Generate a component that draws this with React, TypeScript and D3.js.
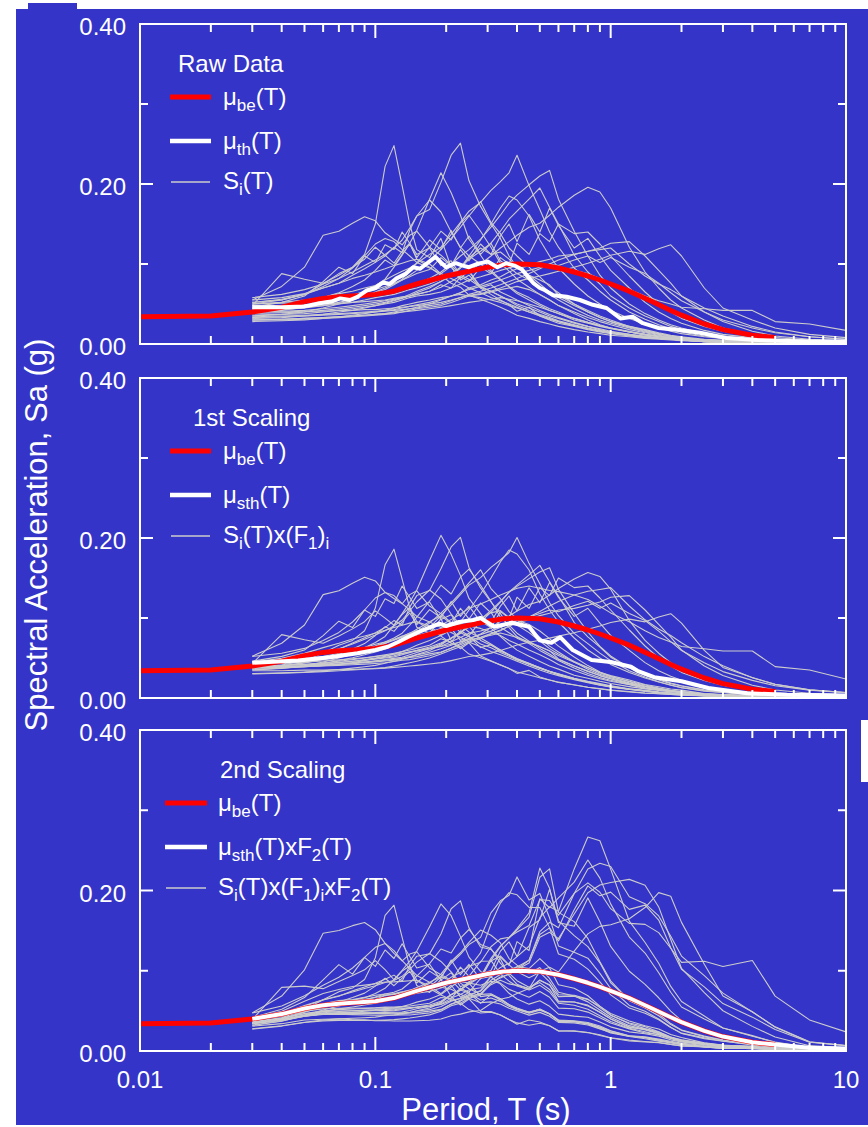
import React from "react";
import * as d3 from "d3";

// Period grid (s) for the individual spectra
const T_GRID = [0.03,0.04,0.05,0.06,0.07,0.08,0.09,0.10,0.11,0.12,0.13,0.14,0.15,0.17,0.19,0.21,0.23,0.25,0.28,0.31,0.34,0.37,0.40,0.45,0.50,0.55,0.60,0.70,0.80,0.90,1.0,1.2,1.4,1.6,1.8,2.0,2.5,3.0,4.0,5.0,7.0,10.0];

// Raw spectra S_i(T), in units of 0.001 g
const RECORDS_MG = [
  [52,55,62,75,88,96,112,150,222,248,198,150,118,108,132,96,82,92,70,62,55,49,41,46,35,30,26,22,18,15,13,10,8,7,6,5,4,3,2,2,1,1],
  [55,58,63,70,76,86,94,102,110,121,114,142,160,168,202,236,251,204,172,150,132,110,96,86,80,74,61,50,42,35,30,22,18,14,11,9,6,5,3,2,2,1],
  [50,52,55,58,63,66,70,73,80,86,91,95,101,112,121,137,152,166,177,192,203,214,236,198,168,140,121,95,80,66,55,40,31,24,19,15,10,8,5,3,2,1],
  [40,42,46,51,56,61,66,73,81,96,111,126,142,181,214,189,161,131,111,92,81,71,63,55,48,42,38,30,26,22,19,15,12,10,8,7,5,4,3,2,1,1],
  [55,72,96,136,141,151,159,154,139,131,124,136,141,121,111,99,86,81,71,66,60,55,50,45,40,35,32,26,22,19,16,12,10,8,7,6,4,3,2,2,1,1],
  [48,88,81,76,86,96,106,121,111,101,116,126,106,96,86,76,71,61,56,51,46,41,36,32,28,25,22,18,15,13,11,9,7,6,5,4,3,2,2,1,1,1],
  [50,51,52,54,56,58,60,62,64,66,68,72,76,82,90,100,110,118,131,146,161,176,186,199,210,217,181,141,110,86,70,50,38,30,24,20,13,10,6,4,3,2],
  [48,48,49,50,51,52,53,54,55,57,59,60,62,66,71,78,85,92,100,110,120,128,136,146,151,161,171,186,196,190,170,121,90,70,55,45,30,20,12,8,5,3],
  [30,31,32,33,34,35,36,37,38,40,42,44,46,50,55,60,64,70,74,80,84,90,94,98,103,106,110,112,116,120,126,128,110,92,76,60,40,28,16,10,6,4],
  [40,40,41,41,42,42,43,43,44,45,46,47,48,50,52,55,58,61,63,66,70,74,78,82,85,88,91,96,101,106,111,116,112,119,124,110,70,45,30,20,12,8],
  [32,33,35,37,40,42,45,48,50,52,55,58,60,62,65,70,75,80,84,88,92,95,98,100,98,96,95,92,88,82,76,68,60,54,50,46,44,42,42,28,25,17],
  [42,44,46,48,50,52,55,58,60,62,65,68,70,75,81,88,95,106,116,126,141,156,166,181,195,171,150,111,90,75,60,45,35,28,22,18,12,9,5,3,2,1],
  [45,46,48,52,56,60,64,68,72,76,80,84,88,93,108,98,118,104,125,112,115,106,96,86,75,65,58,48,40,33,28,22,17,13,10,8,5,4,2,2,1,1],
  [50,55,62,70,76,82,86,90,94,98,101,104,106,100,88,97,80,86,70,74,65,60,55,48,42,37,33,27,22,18,15,12,9,7,6,5,3,2,2,1,1,1],
  [28,29,30,32,34,36,38,40,42,45,48,50,52,55,58,60,62,60,58,55,52,48,45,40,36,32,28,23,19,16,14,11,8,7,6,5,3,2,2,1,1,1],
  [30,30,31,32,33,34,35,36,37,38,40,42,44,46,48,52,56,60,62,65,68,70,72,68,62,55,48,38,30,24,20,15,11,9,7,6,4,3,2,1,1,1],
  [35,37,40,45,50,55,60,65,70,75,81,91,101,121,141,130,151,161,141,121,101,91,81,71,62,55,48,40,33,28,24,18,14,11,9,8,5,4,3,2,1,1],
  [58,62,68,75,82,90,98,105,112,120,130,145,160,180,165,140,121,110,100,90,80,72,65,58,50,44,40,32,27,23,20,15,12,9,8,6,4,3,2,1,1,1],
  [40,41,42,44,46,48,50,52,54,56,58,60,62,66,74,70,84,78,96,88,108,100,126,112,138,128,150,138,140,125,110,85,65,50,40,32,22,16,10,6,4,2],
  [33,34,35,36,37,38,39,40,41,42,43,44,45,48,50,54,58,62,66,70,74,78,82,88,94,100,105,112,116,118,120,100,85,75,68,60,45,35,22,15,9,6],
  [52,56,62,72,82,95,110,125,132,128,118,110,102,95,88,82,76,70,64,58,54,50,46,40,35,31,28,23,19,16,14,11,9,7,6,5,3,2,2,1,1,1],
  [38,39,40,42,44,46,48,50,52,55,58,62,66,72,78,85,95,110,130,150,170,185,180,160,130,110,95,75,60,50,42,32,25,20,16,13,9,7,4,3,2,1],
  [44,47,52,58,64,72,80,92,105,98,112,125,108,130,118,142,120,135,112,126,104,96,88,80,70,62,55,44,36,30,26,20,15,12,10,8,5,4,3,2,1,1],
  [36,37,38,40,42,44,46,48,51,54,57,60,64,70,78,88,96,108,120,112,135,150,128,162,140,170,148,120,132,110,92,70,52,40,32,26,17,12,8,5,3,2],
  [46,52,60,78,96,88,110,102,124,118,140,126,112,120,98,104,86,90,72,66,60,54,48,42,37,33,29,24,20,17,14,11,9,7,6,5,3,2,2,1,1,1],
  [34,35,36,37,38,39,40,41,42,43,45,47,49,52,56,60,64,68,72,76,80,84,88,92,96,100,98,105,110,102,108,96,88,76,64,54,40,30,20,14,9,6],
  [42,43,45,48,52,56,60,64,68,74,80,86,92,104,118,132,146,160,178,152,138,120,110,96,84,72,64,50,40,33,28,21,16,13,10,8,5,4,2,2,1,1],
  [30,31,32,33,34,35,36,37,38,39,40,41,42,44,46,48,50,52,54,56,58,56,54,50,46,42,38,32,27,23,20,16,12,10,8,7,4,3,2,1,1,1],
];

// First scaling factor (F1)_i per record
const F1 = [0.75,0.8,0.85,0.95,0.95,0.9,0.75,0.8,1.0,0.85,1.4,0.85,0.95,0.9,1.5,1.35,1.0,0.75,1.0,1.15,1.0,1.0,0.85,0.85,1.0,1.1,0.9,1.4];

// Target (best-estimate) spectrum mu_be(T)
const MU_BE_T = [0.01,0.02,0.03,0.04,0.05,0.06,0.07,0.08,0.1,0.12,0.15,0.2,0.25,0.3,0.35,0.4,0.5,0.6,0.7,0.8,0.9,1.0,1.2,1.5,1.8,2.0,2.5,3.0,4.0,5.0];
const MU_BE = [0.034,0.035,0.040,0.046,0.053,0.057,0.059,0.060,0.062,0.066,0.075,0.085,0.091,0.096,0.099,0.100,0.099,0.095,0.090,0.085,0.080,0.075,0.066,0.053,0.042,0.036,0.025,0.018,0.011,0.008];

// Mean of raw records mu_th(T)
const MU_TH_T = [0.03,0.04,0.05,0.058,0.065,0.071,0.078,0.084,0.092,0.1,0.108,0.115,0.123,0.135,0.145,0.155,0.166,0.18,0.19,0.2,0.21,0.22,0.235,0.25,0.27,0.3,0.33,0.36,0.39,0.42,0.47,0.5,0.52,0.57,0.65,0.74,0.84,0.96,1.1,1.24,1.37,1.6,1.96,2.4,3.1,4.2,6.8,10];
const MU_TH = [0.046,0.046,0.047,0.051,0.053,0.057,0.055,0.059,0.067,0.070,0.077,0.075,0.082,0.088,0.096,0.094,0.101,0.109,0.102,0.096,0.099,0.101,0.098,0.096,0.100,0.103,0.096,0.101,0.098,0.093,0.076,0.070,0.068,0.061,0.059,0.055,0.049,0.045,0.032,0.034,0.026,0.020,0.0175,0.014,0.0075,0.005,0.003,0.003];

// Mean after first scaling mu_sth(T)
const MU_STH_T = [0.03,0.047,0.064,0.084,0.1,0.113,0.125,0.137,0.16,0.187,0.2,0.227,0.26,0.28,0.32,0.38,0.45,0.5,0.56,0.61,0.69,0.83,1.0,1.22,1.3,1.53,2.0,2.6,3.8,5.6,10];
const MU_STH = [0.044,0.047,0.051,0.056,0.060,0.064,0.070,0.076,0.085,0.093,0.090,0.095,0.0975,0.100,0.089,0.094,0.089,0.072,0.069,0.076,0.060,0.0475,0.045,0.039,0.034,0.026,0.021,0.0125,0.006,0.004,0.003];

// Mean after second scaling mu_sth(T) x F2(T)
const MU_STH_F2_T = [0.03,0.04,0.05,0.06,0.07,0.08,0.1,0.12,0.15,0.2,0.25,0.3,0.35,0.4,0.5,0.6,0.7,0.8,0.9,1.0,1.2,1.5,1.8,2.0,2.5,3.0,4.0,5.0,7.0,10.0];
const MU_STH_F2 = [0.040,0.046,0.053,0.057,0.059,0.060,0.062,0.066,0.075,0.085,0.091,0.096,0.099,0.100,0.099,0.095,0.090,0.085,0.080,0.075,0.066,0.053,0.042,0.036,0.025,0.018,0.011,0.008,0.004,0.003];

const X_TICKS = [0.01, 0.1, 1, 10];
const X_TICK_LABELS = ["0.01", "0.1", "1", "10"];
const Y_TICKS = [0, 0.2, 0.4];
const Y_TICK_LABELS = ["0.00", "0.20", "0.40"];
const Y_MINOR = [0.1, 0.3];

const PANEL_TITLES = ["Raw Data", "1st Scaling", "2nd Scaling"];
type Seg = { t: string; sub?: boolean };
const LEGEND_LABELS: Seg[][][] = [
  [
    [{ t: "μ" }, { t: "be", sub: true }, { t: "(T)" }],
    [{ t: "μ" }, { t: "th", sub: true }, { t: "(T)" }],
    [{ t: "S" }, { t: "i", sub: true }, { t: "(T)" }],
  ],
  [
    [{ t: "μ" }, { t: "be", sub: true }, { t: "(T)" }],
    [{ t: "μ" }, { t: "sth", sub: true }, { t: "(T)" }],
    [{ t: "S" }, { t: "i", sub: true }, { t: "(T)x(F" }, { t: "1", sub: true }, { t: ")" }, { t: "i", sub: true }],
  ],
  [
    [{ t: "μ" }, { t: "be", sub: true }, { t: "(T)" }],
    [{ t: "μ" }, { t: "sth", sub: true }, { t: "(T)xF" }, { t: "2", sub: true }, { t: "(T)" }],
    [{ t: "S" }, { t: "i", sub: true }, { t: "(T)x(F" }, { t: "1", sub: true }, { t: ")" }, { t: "i", sub: true }, { t: "xF" }, { t: "2", sub: true }, { t: "(T)" }],
  ],
];

const BLUE = "#3434c8";
const GRAY = "#cccccc";
const RED = "#ff0000";
const FONT = "'Liberation Sans', Arial, Helvetica, sans-serif";

function LegendText({ x, y, segs }: { x: number; y: number; segs: Seg[] }) {
  let cur = 0;
  return (
    <text x={x} y={y} fill="white" fontSize={24} fontFamily={FONT}>
      {segs.map((s, i) => {
        const target = s.sub ? 6 : 0;
        const dy = target - cur;
        cur = target;
        return (
          <tspan key={i} dy={dy} fontSize={s.sub ? 17 : 24}>
            {s.t}
          </tspan>
        );
      })}
    </text>
  );
}

export default function App() {
  const W = 868, H = 1127;
  const L = 140, R = 846;
  const x = d3.scaleLog().domain([0.01, 10]).range([L, R]);
  const panels = [
    { top: 24, bottom: 344, legX: 170, legX2: 211, txtX: 223, titleX: 178 },
    { top: 378, bottom: 698, legX: 170, legX2: 211, txtX: 223, titleX: 193 },
    { top: 730, bottom: 1051, legX: 165, legX2: 207, txtX: 218, titleX: 220 },
  ];

  const sthScale = d3.scaleLog().domain(MU_STH_T).range(MU_STH).clamp(true);
  const sthF2Scale = d3.scaleLog().domain(MU_STH_F2_T).range(MU_STH_F2).clamp(true);
  const F2 = (t: number) => sthF2Scale(t) / sthScale(t);

  const seriesFor = (p: number) =>
    RECORDS_MG.map((rec, i) =>
      rec.map((v, j) => {
        const t = T_GRID[j];
        let val = v / 1000;
        if (p >= 1) val *= F1[i];
        if (p >= 2) val *= F2(t);
        return [t, val] as [number, number];
      })
    );

  const whiteFor = (p: number): [number, number][] => {
    if (p === 0) return MU_TH_T.map((t, i) => [t, MU_TH[i]]);
    if (p === 1) return MU_STH_T.map((t, i) => [t, MU_STH[i]]);
    return MU_STH_F2_T.map((t, i) => [t, MU_STH_F2[i]]);
  };
  const redData: [number, number][] = MU_BE_T.map((t, i) => [t, MU_BE[i]]);

  const allXTicks = x.ticks();
  return (
    <svg width={W} height={H} style={{ position: "absolute", left: 0, top: 0, display: "block" }} fontFamily={FONT}>
      <rect x={0} y={0} width={W} height={H} fill="white" />
      <rect x={16} y={9} width={W - 16} height={1116} fill={BLUE} />
      <rect x={28} y={3} width={49} height={7} fill={BLUE} />
      <rect x={861} y={720} width={7} height={62} fill="white" />
      <defs>
        {panels.map((p, k) => (
          <clipPath id={`clip${k}`} key={k}>
            <rect x={L} y={p.top} width={R - L} height={p.bottom - p.top} />
          </clipPath>
        ))}
      </defs>
      {panels.map((p, k) => {
        const y = d3.scaleLinear().domain([0, 0.4]).range([p.bottom, p.top]);
        const line = d3
          .line<[number, number]>()
          .x((d) => x(d[0]))
          .y((d) => y(d[1]));
        const grays = seriesFor(k);
        return (
          <g key={k}>
            <g clipPath={`url(#clip${k})`}>
              {grays.map((s, i) => (
                <path key={i} d={line(s) || ""} fill="none" stroke={GRAY} strokeWidth={1.1} strokeLinejoin="round" />
              ))}
              <path d={line(redData) || ""} fill="none" stroke={RED} strokeWidth={5} strokeLinejoin="round" />
              <path d={line(whiteFor(k)) || ""} fill="none" stroke="white" strokeWidth={4} strokeLinejoin="round" />
            </g>
            <rect x={L} y={p.top} width={R - L} height={p.bottom - p.top} fill="none" stroke="white" strokeWidth={2} />
            {allXTicks.map((t, i) => {
              const major = Math.abs(Math.log10(t) - Math.round(Math.log10(t))) < 1e-6;
              const len = major ? 14 : 8;
              const xx = x(t);
              return (
                <g key={i}>
                  <line x1={xx} x2={xx} y1={p.bottom} y2={p.bottom - len} stroke="white" strokeWidth={2} />
                  <line x1={xx} x2={xx} y1={p.top} y2={p.top + len} stroke="white" strokeWidth={2} />
                </g>
              );
            })}
            {Y_TICKS.map((v, i) => (
              <g key={"yt" + i}>
                <line x1={L} x2={L + 13} y1={y(v)} y2={y(v)} stroke="white" strokeWidth={2} />
                <line x1={R} x2={R - 13} y1={y(v)} y2={y(v)} stroke="white" strokeWidth={2} />
                <text x={126} y={y(v) + 11} fill="white" fontSize={24} textAnchor="end">
                  {Y_TICK_LABELS[i]}
                </text>
              </g>
            ))}
            {Y_MINOR.map((v, i) => (
              <g key={"ym" + i}>
                <line x1={L} x2={L + 8} y1={y(v)} y2={y(v)} stroke="white" strokeWidth={2} />
                <line x1={R} x2={R - 8} y1={y(v)} y2={y(v)} stroke="white" strokeWidth={2} />
              </g>
            ))}
            <text x={p.titleX} y={p.top + 48} fill="white" fontSize={24}>
              {PANEL_TITLES[k]}
            </text>
            <line x1={p.legX} x2={p.legX2} y1={p.top + 73} y2={p.top + 73} stroke={RED} strokeWidth={5} />
            <LegendText x={p.txtX} y={p.top + 81} segs={LEGEND_LABELS[k][0]} />
            <line x1={p.legX} x2={p.legX2} y1={p.top + 117} y2={p.top + 117} stroke="white" strokeWidth={4.5} />
            <LegendText x={p.txtX} y={p.top + 125} segs={LEGEND_LABELS[k][1]} />
            <line x1={p.legX + 1} x2={p.legX2 - 1} y1={p.top + 158} y2={p.top + 158} stroke={GRAY} strokeWidth={1.5} />
            <LegendText x={p.txtX} y={p.top + 165} segs={LEGEND_LABELS[k][2]} />
          </g>
        );
      })}
      {X_TICKS.map((t, i) => (
        <text key={i} x={x(t)} y={1088} fill="white" fontSize={24} textAnchor="middle">
          {X_TICK_LABELS[i]}
        </text>
      ))}
      <text x={486} y={1120} fill="white" fontSize={31} textAnchor="middle">
        Period, T (s)
      </text>
      <text transform="translate(47,535) rotate(-90)" fill="white" fontSize={31} textAnchor="middle">
        Spectral Acceleration, Sa (g)
      </text>
    </svg>
  );
}
